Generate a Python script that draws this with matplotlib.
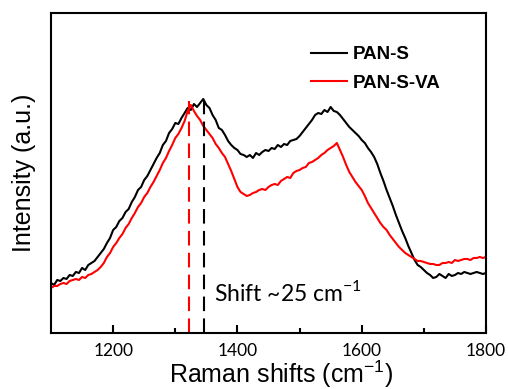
import matplotlib.pyplot as plt
import numpy as np

# Raman shift axis (cm-1), read every 5 cm-1
shift = np.arange(1100, 1801, 5)

# PAN-S (black), one row = 50 cm-1
pan_s = [50, 48, 53, 52, 55, 54, 58, 57, 61, 60,
         65, 63, 68, 70, 72, 76, 80, 84, 90, 95,
         103, 106, 112, 115, 121, 124, 131, 136, 143, 146,
         153, 157, 163, 169, 175, 180, 188, 192, 200, 204,
         210, 209, 215, 220, 225, 223, 229, 226, 230, 234,
         228, 225, 218, 213, 205, 203, 198, 192, 188, 185,
         183, 179, 178, 176, 178, 175, 180, 178, 181, 183,
         182, 185, 184, 188, 186, 189, 188, 192, 193, 194,
         197, 201, 205, 209, 213, 218, 220, 219, 223, 221,
         226, 222, 221, 218, 214, 210, 206, 203, 200, 197,
         193, 190, 185, 181, 176, 169, 160, 152, 143, 135,
         127, 118, 110, 102, 95, 87, 80, 73, 68, 66,
         63, 60, 58, 55, 56, 59, 57, 55, 59, 57,
         58, 60, 59, 61, 60, 59, 60, 61, 60, 59,
         60]

# PAN-S-VA (red)
pan_s_va = [45, 47, 47, 49, 50, 49, 52, 53, 54, 53,
            56, 55, 58, 59, 61, 63, 66, 70, 76, 80,
            86, 90, 95, 99, 105, 109, 115, 120, 126, 130,
            136, 140, 146, 151, 157, 163, 170, 175, 182, 188,
            195, 199, 205, 212, 222, 228, 222, 217, 213, 207,
            203, 199, 195, 189, 185, 180, 176, 169, 162, 154,
            146, 141, 139, 137, 138, 140, 141, 143, 144, 143,
            146, 148, 149, 148, 152, 154, 156, 155, 160, 162,
            163, 165, 166, 170, 171, 173, 175, 178, 180, 183,
            185, 187, 190, 183, 176, 168, 161, 156, 151, 147,
            143, 137, 130, 125, 120, 115, 110, 106, 103, 98,
            94, 90, 86, 83, 80, 78, 76, 74, 72, 72,
            71, 70, 69, 69, 68, 68, 70, 70, 71, 70,
            73, 72, 73, 74, 74, 73, 75, 75, 76, 75,
            76]

# peak positions marked by dashed lines
peak_va = 1322
peak_s = 1346
peak_top = 232

fig = plt.figure(figsize=(5.08, 3.89), dpi=100)
ax = fig.add_axes([0.1004, 0.144, 0.8563, 0.8226])

ax.plot(shift, pan_s, color='black', lw=1.5, label='PAN-S')
ax.plot(shift, pan_s_va, color='red', lw=1.5, label='PAN-S-VA')

ax.vlines(peak_va, 0, peak_top, colors='red', lw=1.5, linestyles=(0, (7, 3.5)))
ax.vlines(peak_s, 0, peak_top, colors='black', lw=1.5, linestyles=(0, (7, 3.5)))

ax.text(1363, 32, r'Shift ~25 cm$^{\mathregular{-1}}$', fontsize=16.5, family='Lato')

ax.set_xlim(1100, 1800)
ax.set_ylim(0, 320)
ax.set_xticks([1200, 1400, 1600, 1800])
ax.set_xticks([1300, 1500, 1700], minor=True)
ax.set_yticks([])
ax.tick_params(axis='x', which='major', direction='in', length=6, width=1.5,
               labelsize=12.5, pad=7)
ax.tick_params(axis='x', which='minor', direction='in', length=3.5, width=1.5)
for lab in ax.get_xticklabels():
    lab.set_family('Lato')
for sp in ax.spines.values():
    sp.set_linewidth(1.5)

ax.set_xlabel(r'Raman shifts (cm$^{\mathregular{-1}}$)', fontsize=18,
              family='Liberation Sans', labelpad=0)
ax.xaxis.label.set_x(0.53)
ax.set_ylabel('Intensity (a.u.)', fontsize=18, family='Liberation Sans', labelpad=11)

ax.legend(loc='upper left', bbox_to_anchor=(0.575, 0.925), frameon=False, borderpad=0,
          prop={'family': 'Liberation Sans', 'weight': 'bold', 'size': 13.5},
          handlelength=1.97, handletextpad=0.27, labelspacing=0.6)

fig.savefig('out.png', dpi=100)
